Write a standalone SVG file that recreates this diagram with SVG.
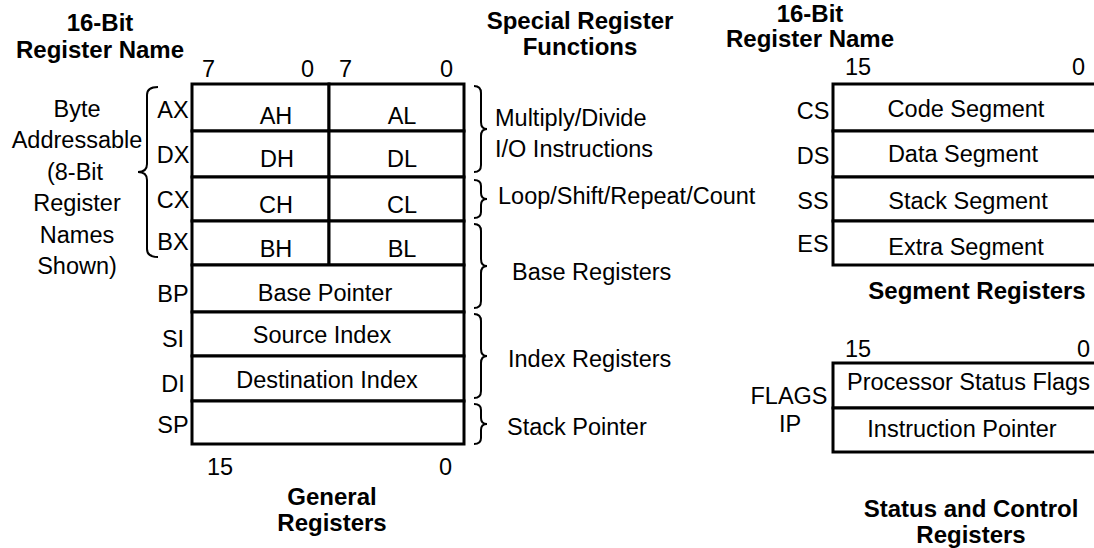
<svg xmlns="http://www.w3.org/2000/svg" width="1094" height="548" viewBox="0 0 1094 548">
<style>
text{font-family:"Liberation Sans",Arial,sans-serif;font-size:23.5px;fill:#000}
.b{font-weight:bold;font-size:24px}
.m{text-anchor:middle}
.e{text-anchor:end}
.cell{fill:#fff;stroke:#000;stroke-width:3}
.br{fill:none;stroke:#000;stroke-width:2}
</style>
<rect width="1094" height="548" fill="#fff"/>
<g id="headers">
<text class="b m" x="100" y="31">16-Bit</text>
<text class="b m" x="100" y="58">Register Name</text>
<text class="b m" x="580" y="29">Special Register</text>
<text class="b m" x="580" y="55">Functions</text>
<text class="b m" x="810" y="22">16-Bit</text>
<text class="b m" x="810" y="47">Register Name</text>
</g>
<g id="byte-note">
<text class="m" x="77" y="117">Byte</text>
<text class="m" x="77" y="148">Addressable</text>
<text class="m" x="75" y="180">(8-Bit</text>
<text class="m" x="77" y="211">Register</text>
<text class="m" x="77" y="243">Names</text>
<text class="m" x="77" y="274">Shown)</text>
</g>
<g id="general-bits">
<text x="202" y="77">7</text>
<text x="301" y="77">0</text>
<text x="339" y="77">7</text>
<text x="440" y="77">0</text>
<text x="207" y="475">15</text>
<text x="439" y="475">0</text>
</g>
<g id="reg-ax">
<rect class="cell" x="192" y="84" width="137" height="47"/>
<rect class="cell" x="329" y="84" width="135" height="47"/>
<text class="m" x="173" y="118">AX</text>
<text class="m" x="276" y="124">AH</text>
<text class="m" x="402" y="124">AL</text>
</g>
<g id="reg-dx">
<rect class="cell" x="192" y="131" width="137" height="46"/>
<rect class="cell" x="329" y="131" width="135" height="46"/>
<text class="m" x="173" y="163">DX</text>
<text class="m" x="277" y="167">DH</text>
<text class="m" x="402" y="167">DL</text>
</g>
<g id="reg-cx">
<rect class="cell" x="192" y="177" width="137" height="44"/>
<rect class="cell" x="329" y="177" width="135" height="44"/>
<text class="m" x="173" y="208">CX</text>
<text class="m" x="276" y="213">CH</text>
<text class="m" x="402" y="213">CL</text>
</g>
<g id="reg-bx">
<rect class="cell" x="192" y="221" width="137" height="44"/>
<rect class="cell" x="329" y="221" width="135" height="44"/>
<text class="m" x="173" y="250">BX</text>
<text class="m" x="276" y="257">BH</text>
<text class="m" x="402" y="257">BL</text>
</g>
<g id="reg-bp">
<rect class="cell" x="192" y="265" width="272" height="47"/>
<text class="m" x="173" y="302">BP</text>
<text class="m" x="325" y="301">Base Pointer</text>
</g>
<g id="reg-si">
<rect class="cell" x="192" y="312" width="272" height="44"/>
<text class="m" x="173" y="347">SI</text>
<text class="m" x="322" y="343">Source Index</text>
</g>
<g id="reg-di">
<rect class="cell" x="192" y="356" width="272" height="45"/>
<text class="m" x="173" y="392">DI</text>
<text class="m" x="327" y="388">Destination Index</text>
</g>
<g id="reg-sp">
<rect class="cell" x="192" y="401" width="272" height="43"/>
<text class="m" x="173" y="433">SP</text>
</g>
<g id="general-title">
<text class="b m" x="332" y="505">General</text>
<text class="b m" x="332" y="531">Registers</text>
</g>
<g id="connectors">
<path class="br" d="M158,87 Q147,87 147,95 L147,164 Q147,172 138,172 Q147,172 147,180 L147,249 Q147,257 158,257"/>
<path class="br" d="M474,86 Q481,86 481,93 L481,122 Q481,129 487,129 Q481,129 481,136 L481,165 Q481,172 474,172"/>
<path class="br" d="M474,180 Q481,180 481,186 L481,193 Q481,199 487,199 Q481,199 481,205 L481,212 Q481,218 474,218"/>
<path class="br" d="M474,224 Q481,224 481,231 L481,259 Q481,266 487,266 Q481,266 481,273 L481,301 Q481,308 474,308"/>
<path class="br" d="M474,314 Q481,314 481,321 L481,349 Q481,356 487,356 Q481,356 481,363 L481,391 Q481,398 474,398"/>
<path class="br" d="M474,404 Q481,404 481,410 L481,418 Q481,424 487,424 Q481,424 481,430 L481,438 Q481,444 474,444"/>
</g>
<g id="functions">
<text x="495" y="126">Multiply/Divide</text>
<text x="495" y="157">I/O Instructions</text>
<text x="498" y="204">Loop/Shift/Repeat/Count</text>
<text x="512" y="280">Base Registers</text>
<text x="508" y="367">Index Registers</text>
<text x="507" y="435">Stack Pointer</text>
</g>
<g id="segment-bits">
<text x="845" y="75">15</text>
<text x="1072" y="75">0</text>
</g>
<g id="reg-cs">
<rect class="cell" x="833" y="84" width="270" height="47"/>
<text class="m" x="813" y="119">CS</text>
<text class="m" x="966" y="117">Code Segment</text>
</g>
<g id="reg-ds">
<rect class="cell" x="833" y="131" width="270" height="46"/>
<text class="m" x="813" y="164">DS</text>
<text class="m" x="963" y="162">Data Segment</text>
</g>
<g id="reg-ss">
<rect class="cell" x="833" y="177" width="270" height="44"/>
<text class="m" x="813" y="209">SS</text>
<text class="m" x="968" y="209">Stack Segment</text>
</g>
<g id="reg-es">
<rect class="cell" x="833" y="221" width="270" height="44"/>
<text class="m" x="813" y="252">ES</text>
<text class="m" x="966" y="255">Extra Segment</text>
</g>
<text class="b m" x="977" y="299">Segment Registers</text>
<g id="status-bits">
<text x="845" y="357">15</text>
<text x="1077" y="357">0</text>
</g>
<g id="reg-flags">
<rect class="cell" x="833" y="363" width="270" height="45"/>
<text class="m" x="789" y="404">FLAGS</text>
<text x="847" y="390">Processor Status Flags</text>
</g>
<g id="reg-ip">
<rect class="cell" x="833" y="408" width="270" height="44"/>
<text class="m" x="790" y="432">IP</text>
<text class="m" x="962" y="437">Instruction Pointer</text>
</g>
<g id="status-title">
<text class="b m" x="971" y="517">Status and Control</text>
<text class="b m" x="971" y="543">Registers</text>
</g>
</svg>
